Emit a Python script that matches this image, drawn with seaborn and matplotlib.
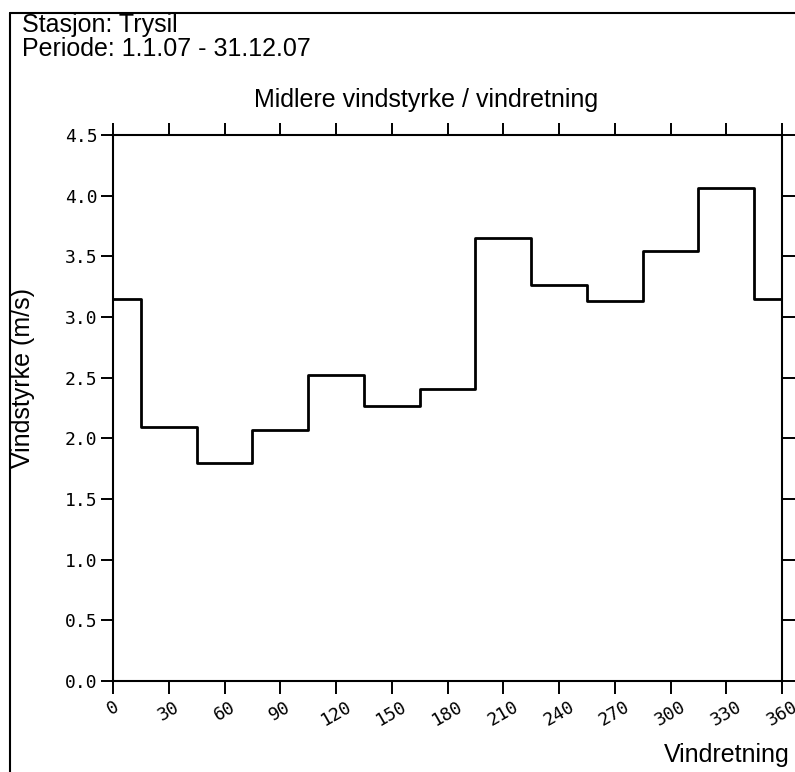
import matplotlib
matplotlib.use("Agg")
import matplotlib.pyplot as plt
from matplotlib.lines import Line2D
import seaborn as sns
import pandas as pd

# Mean wind speed per 30-degree direction sector (sector centres)
directions = [0, 30, 60, 90, 120, 150, 180, 210, 240, 270, 300, 330]
wind_speed = [3.15, 2.09, 1.80, 2.07, 2.52, 2.27, 2.41, 3.65, 3.26, 3.13, 3.54, 4.06]
x_ticks = [0, 30, 60, 90, 120, 150, 180, 210, 240, 270, 300, 330, 360]
y_ticks = [0.0, 0.5, 1.0, 1.5, 2.0, 2.5, 3.0, 3.5, 4.0, 4.5]

station = "Stasjon: Trysil"
period = "Periode: 1.1.07 - 31.12.07"
title = "Midlere vindstyrke / vindretning"

# Sector edges: north sector wraps around 345..15 degrees
edges = [0] + [d + 15 for d in directions] + [360]
levels = [wind_speed[0]] + wind_speed[1:] + [wind_speed[0], wind_speed[0]]
steps = pd.DataFrame({"retning": edges, "styrke": levels})

sns.set_style("white")
plt.rcParams["font.family"] = ["Liberation Sans", "DejaVu Sans"]
plt.rcParams["text.color"] = "black"
plt.rcParams["axes.labelcolor"] = "black"
plt.rcParams["xtick.color"] = "black"
plt.rcParams["ytick.color"] = "black"

fig = plt.figure(figsize=(7.95, 7.72), dpi=100)
ax = fig.add_axes([113 / 795, 1 - 681 / 772, 669 / 795, 546 / 772])

sns.lineplot(data=steps, x="retning", y="styrke", drawstyle="steps-post",
             color="black", linewidth=2.0, ax=ax, sort=False)

tick_font = dict(family="DejaVu Sans Mono", fontsize=13)
ax.set_xlim(0, 360)
ax.set_ylim(0, 4.5)
ax.set_xticks(x_ticks)
ax.set_yticks(y_ticks)
ax.set_yticklabels([f"{v:.1f}" for v in y_ticks], **tick_font)
ax.set_xticklabels([str(v) for v in x_ticks], rotation=30,
                   ha="center", va="top", **tick_font)
ax.tick_params(axis="both", direction="out", length=9, width=1.4,
               colors="black")
ax.tick_params(axis="x", top=True, bottom=True, pad=3)
ax.tick_params(axis="y", left=True, right=True, pad=2)
for s in ax.spines.values():
    s.set_visible(True)
    s.set_color("black")
    s.set_linewidth(1.5)
ax.set_xlabel("")
ax.set_ylabel("")

fig.text(426 / 795, 1 - 100 / 772, title, ha="center", va="center", fontsize=18)
fig.text(22 / 795, 1 - 25 / 772, station, ha="left", va="center", fontsize=18)
fig.text(22 / 795, 1 - 49 / 772, period, ha="left", va="center", fontsize=18)
fig.text(790 / 795, 1 - 755 / 772, "Vindretning", ha="right", va="center",
         fontsize=18)
fig.text(23 / 795, 1 - 378 / 772, "Vindstyrke (m/s)", ha="center",
         va="center", rotation=90, fontsize=18)

# Page border (left and top edges)
fig.add_artist(Line2D([10 / 795, 10 / 795], [0, 1 - 13 / 772],
                      transform=fig.transFigure, color="black", linewidth=1.5))
fig.add_artist(Line2D([10 / 795, 1], [1 - 13 / 772, 1 - 13 / 772],
                      transform=fig.transFigure, color="black", linewidth=1.5))

fig.savefig("out.png", dpi=100, facecolor="white")
